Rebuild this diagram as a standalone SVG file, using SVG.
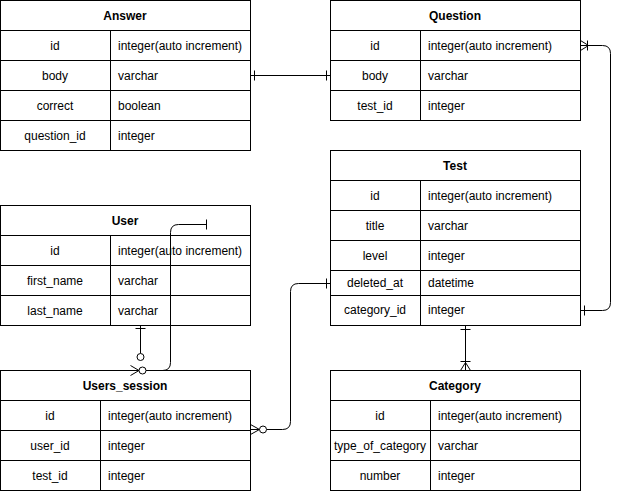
<svg xmlns="http://www.w3.org/2000/svg" width="620" height="491" viewBox="0 0 620 491">
<style>
.b{fill:#fff;stroke:#000;stroke-width:1}
.l{stroke:#000;stroke-width:1;fill:none}
.h{font-family:"Liberation Sans",Arial,sans-serif;font-size:12px;font-weight:bold;text-anchor:middle;fill:#000}
.c{font-family:"Liberation Sans",Arial,sans-serif;font-size:12px;text-anchor:middle;fill:#000}
.t{font-family:"Liberation Sans",Arial,sans-serif;font-size:12px;fill:#000}
.o{fill:#fff;stroke:#000;stroke-width:1}
</style>
<rect width="620" height="491" fill="#fff"/>
<g id="Answer">
<rect class="b" x="0.5" y="0.5" width="250" height="150"/>
<path class="l" d="M0.5 30.5H250.5M0.5 60.5H250.5M0.5 90.5H250.5M0.5 120.5H250.5M110.5 30.5V150.5"/>
<text class="h" x="125" y="20">Answer</text>
<text class="c" x="55" y="50">id</text><text class="t" x="118" y="50">integer(auto increment)</text>
<text class="c" x="55" y="80">body</text><text class="t" x="118" y="80">varchar</text>
<text class="c" x="55" y="110">correct</text><text class="t" x="118" y="110">boolean</text>
<text class="c" x="55" y="140">question_id</text><text class="t" x="118" y="140">integer</text>
</g>
<g id="Question">
<rect class="b" x="330.5" y="0.5" width="250" height="120"/>
<path class="l" d="M330.5 30.5H580.5M330.5 60.5H580.5M330.5 90.5H580.5M420.5 30.5V120.5"/>
<text class="h" x="455" y="20">Question</text>
<text class="c" x="375" y="50">id</text><text class="t" x="428" y="50">integer(auto increment)</text>
<text class="c" x="375" y="80">body</text><text class="t" x="428" y="80">varchar</text>
<text class="c" x="375" y="110">test_id</text><text class="t" x="428" y="110">integer</text>
</g>
<g id="Test">
<rect class="b" x="330.5" y="150.5" width="250" height="175"/>
<path class="l" d="M330.5 180.5H580.5M330.5 210.5H580.5M330.5 240.5H580.5M330.5 270.5H580.5M330.5 295.5H580.5M420.5 180.5V325.5"/>
<text class="h" x="455" y="170">Test</text>
<text class="c" x="375" y="200">id</text><text class="t" x="428" y="200">integer(auto increment)</text>
<text class="c" x="375" y="230">title</text><text class="t" x="428" y="230">varchar</text>
<text class="c" x="375" y="260">level</text><text class="t" x="428" y="260">integer</text>
<text class="c" x="375" y="287">deleted_at</text><text class="t" x="428" y="287">datetime</text>
<text class="c" x="375" y="314">category_id</text><text class="t" x="428" y="314">integer</text>
</g>
<g id="User">
<rect class="b" x="0.5" y="205.5" width="250" height="120"/>
<path class="l" d="M0.5 235.5H250.5M0.5 265.5H250.5M0.5 295.5H250.5M110.5 235.5V325.5"/>
<text class="h" x="125" y="225">User</text>
<text class="c" x="55" y="255">id</text><text class="t" x="118" y="255">integer(auto increment)</text>
<text class="c" x="55" y="285">first_name</text><text class="t" x="118" y="285">varchar</text>
<text class="c" x="55" y="315">last_name</text><text class="t" x="118" y="315">varchar</text>
</g>
<g id="Users_session">
<rect class="b" x="0.5" y="370.5" width="250" height="120"/>
<path class="l" d="M0.5 400.5H250.5M0.5 430.5H250.5M0.5 460.5H250.5M100.5 400.5V490.5"/>
<text class="h" x="125" y="390">Users_session</text>
<text class="c" x="50" y="420">id</text><text class="t" x="108" y="420">integer(auto increment)</text>
<text class="c" x="50" y="450">user_id</text><text class="t" x="108" y="450">integer</text>
<text class="c" x="50" y="480">test_id</text><text class="t" x="108" y="480">integer</text>
</g>
<g id="Category">
<rect class="b" x="330.5" y="370.5" width="250" height="120"/>
<path class="l" d="M330.5 400.5H580.5M330.5 430.5H580.5M330.5 460.5H580.5M430.5 400.5V490.5"/>
<text class="h" x="455" y="390">Category</text>
<text class="c" x="380" y="420">id</text><text class="t" x="438" y="420">integer(auto increment)</text>
<text class="c" x="380" y="450">type_of_category</text><text class="t" x="438" y="450">varchar</text>
<text class="c" x="380" y="480">number</text><text class="t" x="438" y="480">integer</text>
</g>
<g id="connectors">
<!-- Answer.body - Question.body -->
<path class="l" d="M250.5 75.5H330.5M254.5 70.5V80.5M326.5 70.5V80.5"/>
<!-- Question.id - Test.category_id -->
<path class="l" d="M580.5 45.5H602.5Q610.5 45.5 610.5 53.5V302.5Q610.5 310.5 602.5 310.5H580.5"/>
<path class="l" d="M580.5 40.5L588.5 45.5L580.5 50.5M587.5 40.5V50.5M584.5 305.5V315.5"/>
<!-- User - Users_session -->
<path class="l" d="M140.5 325.5V353.5M135.5 328.5H145.5"/>
<circle class="o" cx="140.5" cy="357" r="3.5"/>
<path class="l" d="M206.5 224.5H178.5Q170.5 224.5 170.5 232.5V362.5Q170.5 370.5 162.5 370.5H146"/>
<path class="l" d="M206.5 219.5V229.5M139 370.5L130.5 365.5M139 370.5L130.5 375.5M139 370.5H130.5"/>
<circle class="o" cx="142.5" cy="370.5" r="3.5"/>
<!-- Users_session.user_id - Test.deleted_at -->
<path class="l" d="M266.5 429.5H282.5Q290.5 429.5 290.5 421.5V291.5Q290.5 283.5 298.5 283.5H330.5M326.5 278.5V288.5"/>
<path class="l" d="M250.5 424.5L259.5 429.5L250.5 434.5M250.5 429.5H259.5"/>
<circle class="o" cx="263" cy="429.5" r="3.5"/>
<!-- Test - Category -->
<path class="l" d="M465.5 325.5V370.5M460.5 329.5H470.5M460.5 361.5H470.5M460.5 370.5L465.5 362.5L470.5 370.5"/>
</g>
</svg>
